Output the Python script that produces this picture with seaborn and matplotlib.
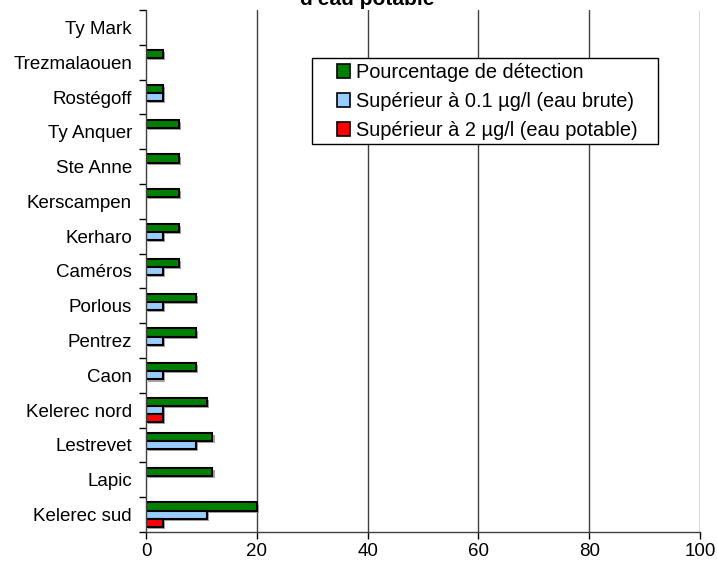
import pandas as pd
import seaborn as sns
import matplotlib.pyplot as plt
import matplotlib.patheffects as pe
from matplotlib.patches import Rectangle

# stations, top to bottom
stations = ['Ty Mark', 'Trezmalaouen', 'Rostégoff', 'Ty Anquer', 'Ste Anne',
            'Kerscampen', 'Kerharo', 'Caméros', 'Porlous', 'Pentrez', 'Caon',
            'Kelerec nord', 'Lestrevet', 'Lapic', 'Kelerec sud']
detection = [0, 3, 3, 6, 6, 6, 6, 6, 9, 9, 9, 11, 12, 12, 20]
sup_01 = [0, 0, 3, 0, 0, 0, 3, 3, 3, 3, 3, 3, 9, 0, 11]
sup_2 = [0, 0, 0, 0, 0, 0, 0, 0, 0, 0, 0, 3, 0, 0, 3]
series = ['Pourcentage de détection', 'Supérieur à 0.1 µg/l (eau brute)',
          'Supérieur à 2 µg/l (eau potable)']
colors = ['#008000', '#99ccff', '#ff0000']

df = pd.DataFrame({'station': stations * 3,
                   'serie': [series[0]] * 15 + [series[1]] * 15 + [series[2]] * 15,
                   'valeur': detection + sup_01 + sup_2})

sns.set_style('white')
plt.rcParams['font.family'] = ['Liberation Sans', 'DejaVu Sans']
plt.rcParams['text.color'] = 'black'
plt.rcParams['xtick.color'] = 'black'
plt.rcParams['ytick.color'] = 'black'

fig = plt.figure(figsize=(7.17, 5.66), dpi=100)
ax = fig.add_axes([146 / 717, 34 / 566, 554 / 717, 522 / 566])

b = sns.barplot(data=df, y='station', x='valeur', hue='serie', order=stations,
                hue_order=series, palette=colors, orient='h', width=0.7,
                edgecolor='black', linewidth=1.5, saturation=1, ax=ax)

for bar in ax.patches:
    if bar.get_width() > 0:
        bar.set_path_effects([pe.SimplePatchShadow(offset=(1.5, -1.5), shadow_rgbFace='#909090', alpha=0.8),
                              pe.Normal()])

ax.set_xlim(0, 100)
ax.set_ylim(len(stations) - 0.5, -0.5)
ax.set_xticks([0, 20, 40, 60, 80, 100])
ax.set_yticks([i + 0.5 for i in range(-1, len(stations))], minor=True)
ax.tick_params(axis='y', which='major', length=0, labelsize=13.5, pad=10)
ax.tick_params(axis='y', which='minor', length=5, width=1, color='black', left=True)
ax.tick_params(axis='x', length=5, width=1, color='black', bottom=True, labelsize=13.5, pad=3)
for v in [20, 40, 60, 80, 100]:
    ax.axvline(v, color='#404040', linewidth=1, zorder=0)
for s in ['top', 'right']:
    ax.spines[s].set_visible(False)
for s in ['left', 'bottom']:
    ax.spines[s].set_color('#404040')
    ax.spines[s].set_linewidth(1)
ax.set_xlabel('')
ax.set_ylabel('')

# legend box drawn separately so the padding matches
box = Rectangle((312 / 717, 1 - 144 / 566), 346 / 717, 86 / 566, transform=fig.transFigure,
                facecolor='white', edgecolor='black', linewidth=1, zorder=5, clip_on=False)
ax.add_patch(box)

leg = ax.legend(loc='upper left', bbox_to_anchor=(335 / 717, 1 - 61 / 566),
                bbox_transform=fig.transFigure, fontsize=14.4, frameon=False,
                handlelength=0.65, handleheight=0.65, handletextpad=0.3,
                borderpad=0.1, labelspacing=0.5, borderaxespad=0)
leg.set_zorder(6)
for h in leg.legend_handles:
    h.set_path_effects([])
    h.set_linewidth(1.2)

fig.text(0.512, 1 - 5 / 566, "d'eau potable", ha='center', va='baseline',
         fontsize=15, fontweight='bold')

plt.savefig('out.png', dpi=100)
